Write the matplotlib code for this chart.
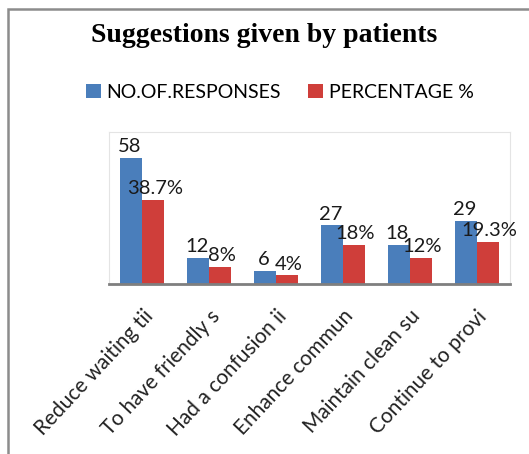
import numpy as np
import matplotlib.pyplot as plt
from matplotlib.patches import Rectangle

# 数据
categories = ['Reduce waiting tii', 'To have friendly s', 'Had a confusion ii',
              'Enhance commun', 'Maintain clean su', 'Continue to provi']
responses = [58, 12, 6, 27, 18, 29]
percentages = [38.7, 8, 4, 18, 12, 19.3]
pct_labels = ['38.7%', '8%', '4%', '18%', '12%', '19.3%']

blue = '#4a7ebb'
red = '#cf3e3a'

fig = plt.figure(figsize=(5.29, 4.54), dpi=100)
ax = fig.add_axes([109 / 529, 1 - 284 / 454, 401 / 529, 152 / 454])

x = np.arange(len(categories))
w = 0.33
b1 = ax.bar(x - w / 2, responses, w, color=blue, label='NO.OF.RESPONSES')
b2 = ax.bar(x + w / 2, percentages, w, color=red, label='PERCENTAGE %')

for rect, v in zip(b1, responses):
    ax.text(rect.get_x() + rect.get_width() / 2 - 0.02, v + 1.2, str(v),
            ha='center', va='bottom', fontsize=14.5, family='Lato', color='#1a1a1a')
for rect, v, lab in zip(b2, percentages, pct_labels):
    ax.text(rect.get_x() + rect.get_width() / 2 + 0.02, v + 1.2, lab,
            ha='center', va='bottom', fontsize=14.5, family='Lato', color='#1a1a1a')

ax.set_xlim(-0.5, len(categories) - 0.5)
ax.set_ylim(0, 70)
ax.set_yticks([])
ax.set_xticks(x)
ax.set_xticklabels(categories, rotation=47, ha='right', rotation_mode='anchor',
                   fontsize=15, family='Lato', color='#222222')
ax.tick_params(axis='x', length=0, pad=16)
for s in ['top', 'right', 'left']:
    ax.spines[s].set_color('#e4e4e4')
    ax.spines[s].set_linewidth(0.8)
ax.spines['bottom'].set_color('#7f7f7f')
ax.spines['bottom'].set_linewidth(2)

fig.text(0.5, 1 - 35 / 454, 'Suggestions given by patients', ha='center', va='center',
         fontsize=20, fontweight='bold', family='Liberation Serif')
fig.legend(loc='center', bbox_to_anchor=(280 / 529, 1 - 92 / 454), ncol=2, frameon=False,
           prop={'family': 'Lato', 'size': 14}, handlelength=0.75, handleheight=0.75,
           handletextpad=0.3, columnspacing=1.4)

fig.patches.append(Rectangle((8 / 529, -0.1), 1.2, 1.1 - 9 / 454, transform=fig.transFigure,
                             fill=False, edgecolor='#8c8c8c', linewidth=1.8))

fig.savefig('out.png', dpi=100)
